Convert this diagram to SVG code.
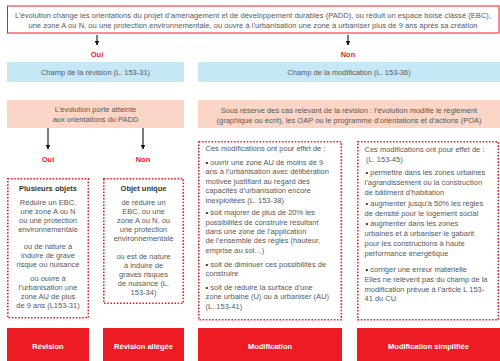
<svg xmlns="http://www.w3.org/2000/svg" width="500" height="361" viewBox="0 0 500 361">
<defs>
<style>
text{font-family:"Liberation Sans",Arial,sans-serif;font-size:7.5px;fill:#58595b}
.c{text-anchor:middle}
.t{font-size:7.6px}
.b{font-weight:bold;fill:#333}
.r{font-weight:bold;fill:#ed1c24}
.w{font-weight:bold;fill:#fff}
.k{fill:#111}
.dot{fill:#fff;stroke:#ed1c24;stroke-width:1.6;stroke-dasharray:1.6 1.6}
.blue{fill:#c6e7f6}
.peach{fill:#fbd5c5}
.red{fill:#ed1c24}
.arr{stroke:#111;stroke-width:1.1;fill:none}
</style>
<marker id="ah" viewBox="0 0 10 10" refX="9" refY="5" markerWidth="5" markerHeight="5" orient="auto" markerUnits="userSpaceOnUse">
<path d="M0,0 L10,5 L0,10 z" fill="#111"/>
</marker>
</defs>
<rect width="500" height="361" fill="#fff"/>

<g id="top">
<rect x="7.5" y="6" width="491.5" height="27" fill="#fff" stroke="#ed1c24" stroke-width="1"/>
<text class="c t" x="253" y="17.5">L’évolution change les orientations du projet d’aménagement et de développement durables (PADD), ou réduit un espace boisé classé (EBC),</text>
<text class="c t" x="253" y="27.5">une zone A ou N, ou une protection environnementale, ou ouvre à l’urbanisation une zone à urbaniser plus de 9 ans après sa création</text>
</g>

<g id="connectors">
<line class="arr" x1="97" y1="35" x2="97" y2="45" marker-end="url(#ah)"/>
<line class="arr" x1="348" y1="35" x2="348" y2="45" marker-end="url(#ah)"/>
<line class="arr" x1="48" y1="128" x2="48" y2="149" marker-end="url(#ah)"/>
<line class="arr" x1="143" y1="128" x2="143" y2="149" marker-end="url(#ah)"/>
</g>

<g id="label-oui-1"><text class="c r" x="97" y="57">Oui</text></g>
<g id="label-non-1"><text class="c r" x="348" y="57">Non</text></g>

<g id="champ-revision">
<rect class="blue" x="7" y="62" width="177" height="20"/>
<text class="c" x="95.5" y="74.5">Champ de la révision (L. 153-31)</text>
</g>
<g id="champ-modification">
<rect class="blue" x="198" y="62" width="302" height="20"/>
<text class="c" x="349" y="74.5">Champ de la modification (L. 153-36)</text>
</g>

<g id="atteinte-padd">
<rect class="peach" x="7" y="100" width="177" height="28"/>
<text class="c" x="95.5" y="111.5">L’évolution porte atteinte</text>
<text class="c" x="95.5" y="121.5">aux orientations du PADD</text>
</g>
<g id="sous-reserve">
<rect class="peach" x="198" y="100" width="302" height="28"/>
<text class="c" x="349" y="113">Sous réserve des cas relevant de la révision : l’évolution modifie le règlement</text>
<text class="c" x="349" y="122.5">(graphique ou écrit), les OAP ou le programme d’orientations et d’actions (POA)</text>
</g>

<g id="label-oui-2"><text class="c r" x="48" y="162">Oui</text></g>
<g id="label-non-2"><text class="c r" x="143" y="162">Non</text></g>

<g id="plusieurs-objets">
<rect class="dot" x="7.8" y="178.8" width="80.5" height="139"/>
<text class="c b" x="48" y="190.5">Plusieurs objets</text>
<text class="c" x="48" y="204.5">Réduire un EBC,</text>
<text class="c" x="48" y="213.5">une zone A ou N</text>
<text class="c" x="48" y="222.5">ou une protection</text>
<text class="c" x="48" y="231.5">environnementale</text>
<text class="c" x="48" y="249">ou de nature à</text>
<text class="c" x="48" y="258">induire de grave</text>
<text class="c" x="48" y="267">risque ou nuisance</text>
<text class="c" x="48" y="280.5">ou ouvre à</text>
<text class="c" x="48" y="289.5">l’urbanisation une</text>
<text class="c" x="48" y="298.5">zone AU de plus</text>
<text class="c" x="48" y="307.5">de 9 ans (L153-31)</text>
</g>

<g id="objet-unique">
<rect class="dot" x="103.8" y="178.8" width="79.5" height="124.5"/>
<text class="c b" x="143.5" y="190.5">Objet unique</text>
<text class="c" x="143.5" y="204.5">de réduire un</text>
<text class="c" x="143.5" y="213.5">EBC, ou une</text>
<text class="c" x="143.5" y="222.5">zone A ou N, ou</text>
<text class="c" x="143.5" y="231.5">une protection</text>
<text class="c" x="143.5" y="240.5">environnementale</text>
<text class="c" x="143.5" y="258.5">ou est de nature</text>
<text class="c" x="143.5" y="267.5">à induire de</text>
<text class="c" x="143.5" y="276.5">graves risques</text>
<text class="c" x="143.5" y="285.5">de nuisance (L.</text>
<text class="c" x="143.5" y="294.5">153-34)</text>
</g>

<g id="modification-detail">
<rect class="dot" x="198.8" y="141.8" width="142.5" height="178"/>
<text x="205.5" y="150.5">Ces modifications ont pour effet de :</text>
<text x="205.5" y="164.5"><tspan class="k">•</tspan>  ouvrir une zone AU de moins de 9</text>
<text x="205.5" y="174">ans à l’urbanisation avec délibération</text>
<text x="205.5" y="183.5">motivée justifiant au regard des</text>
<text x="205.5" y="193">capacités d’urbanisation encore</text>
<text x="205.5" y="202.5">inexploitées (L. 153-38)</text>
<text x="205.5" y="215"><tspan class="k">•</tspan>  soit majorer de plus de 20% les</text>
<text x="205.5" y="224.5">possibilités de construire résultant</text>
<text x="205.5" y="233.5">dans une zone de l’application</text>
<text x="205.5" y="243">de l’ensemble des règles (hauteur,</text>
<text x="205.5" y="252.5">emprise au sol…)</text>
<text x="205.5" y="266.5"><tspan class="k">•</tspan>  soit de diminuer ces possibilités de</text>
<text x="205.5" y="276">construire</text>
<text x="205.5" y="289.5"><tspan class="k">•</tspan>  soit de réduire la surface d’une</text>
<text x="205.5" y="299">zone urbaine (U) ou à urbaniser (AU)</text>
<text x="205.5" y="308.5">(L. 153-41)</text>
</g>

<g id="modification-simplifiee-detail">
<rect class="dot" x="357.8" y="141.8" width="140.5" height="178"/>
<text x="364.5" y="151.5">Ces modifications ont pour effet de :</text>
<text x="366" y="161.5">(L. 153-45)</text>
<text x="365.5" y="174.5"><tspan class="k">•</tspan>  permettre dans les zones urbaines</text>
<text x="364.5" y="184.5">l’agrandissement ou la construction</text>
<text x="364.5" y="194.5">de bâtiment d’habitation</text>
<text x="365.5" y="205.5"><tspan class="k">•</tspan>  augmenter jusqu’à 50% les règles</text>
<text x="364.5" y="215.5">de densité pour le logement social</text>
<text x="365.5" y="226"><tspan class="k">•</tspan>  augmenter dans les zones</text>
<text x="364.5" y="236">urbaines et à urbaniser  le gabarit</text>
<text x="364.5" y="246">pour les constructions à haute</text>
<text x="364.5" y="256">performance énergétique</text>
<text x="365.5" y="271.5"><tspan class="k">•</tspan>  corriger une erreur matérielle</text>
<text x="364.5" y="282">Elles ne relèvent pas du champ de la</text>
<text x="364.5" y="291.5">modification prévue à l’article L 153-</text>
<text x="364.5" y="301">41 du CU</text>
</g>

<g id="revision">
<rect class="red" x="7" y="328" width="82" height="33"/>
<text class="c w" x="48" y="348.5">Révision</text>
</g>
<g id="revision-allegee">
<rect class="red" x="103" y="328" width="81" height="33"/>
<text class="c w" x="143.5" y="348.5">Révision allégée</text>
</g>
<g id="modification">
<rect class="red" x="198" y="328" width="144" height="33"/>
<text class="c w" x="270" y="348.5">Modification</text>
</g>
<g id="modification-simplifiee">
<rect class="red" x="357" y="328" width="143" height="33"/>
<text class="c w" x="428.5" y="348.5">Modification simplifiée</text>
</g>
</svg>
